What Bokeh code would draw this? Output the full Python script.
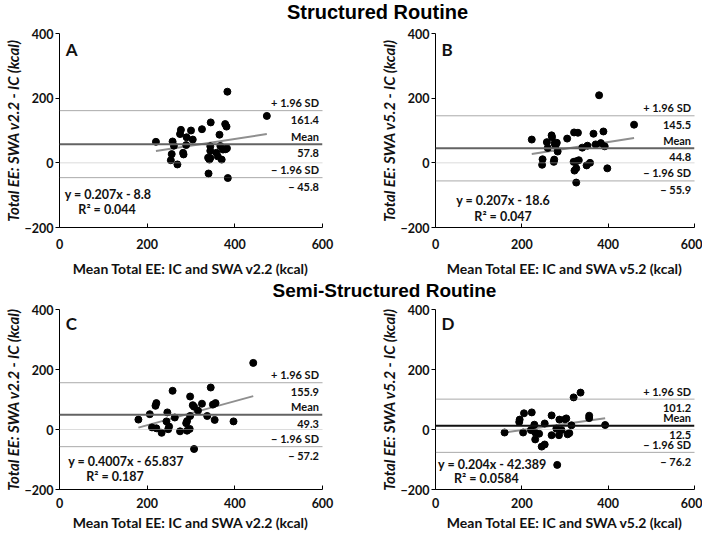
from bokeh.plotting import figure
from bokeh.layouts import column, row
from bokeh.models import Range1d, FixedTicker, Span
from bokeh.core.properties import value
from bokeh.embed import file_html
from bokeh.resources import INLINE

# ---------------- data ----------------
a_x = [220, 258, 261, 256, 254, 269, 277, 275, 290, 300, 304, 289, 282, 283, 325, 345, 344, 344,
       339, 342, 344, 340, 358, 361, 365, 367, 370, 373, 379, 382, 378, 381, 383, 384, 473]
a_y = [65, 66, 53, 27, 8, -5, 102, 89, 79, 100, 72, 55, 31, 26, 104, 125, 51, 37,
       16, 10, 15, -33, 31, 20, 87, 52, 10, 41, 42, 45, 120, 112, 220, -47, 145]

b_x = [223, 248, 247, 258, 260, 269, 270, 276, 278, 281, 283, 275, 274, 305, 321, 330, 340, 352,
       320, 326, 332, 326, 322, 326, 350, 358, 366, 371, 383, 389, 392, 379, 398, 460]
b_y = [72, 11, -6, 64, 46, 85, 79, 60, 53, 62, 35, 10, 3, 75, 94, 93, 47, 53,
       3, 5, 8, -17, -24, -61, -8, 0, 90, 57, 61, 97, 51, 209, -17, 118]

c_x = [180, 206, 219, 221, 211, 221, 233, 246, 244, 250, 248, 258, 263, 275, 291, 289, 291, 297,
       298, 298, 304, 307, 316, 325, 337, 345, 350, 356, 354, 397, 442, 307]
c_y = [33, 51, 79, 88, 7, 4, -11, 57, 27, 10, 1, 129, 40, -6, 28, 21, -4, 2,
       110, 45, 81, 76, 63, 86, 45, 140, 83, 88, 32, 27, 222, -65]

d_x = [160, 195, 194, 205, 223, 203, 229, 221, 231, 240, 231, 246, 253, 253, 269, 269, 280, 286,
       287, 292, 303, 300, 306, 310, 315, 320, 336, 356, 356, 393, 282]
d_y = [-10, 33, 25, 54, 57, -10, 16, -2, -10, -14, -33, -57, -50, 20, 47, -19, 3, -19,
       33, -2, 37, 34, -16, -12, 14, 107, 123, 46, 38, 15, -118]

panel_letters = ["A", "B", "C", "D"]
means = [57.8, 44.8, 49.3, 12.5]
upper_loa = [161.4, 145.5, 155.9, 101.2]
lower_loa = [-45.8, -55.9, -57.2, -76.2]
slopes = [0.207, 0.207, 0.4007, 0.204]
intercepts = [-8.8, -18.6, -65.837, -42.389]
eq_labels = ["y = 0.207x - 8.8", "y = 0.207x - 18.6", "y = 0.4007x - 65.837", "y = 0.204x - 42.389"]
r2_labels = ["R² = 0.044", "R² = 0.047", "R² = 0.187", "R² = 0.0584"]
y_titles = ["Total EE: SWA v2.2 - IC (kcal)", "Total EE: SWA v5.2 - IC (kcal)",
            "Total EE: SWA v2.2 - IC (kcal)", "Total EE: SWA v5.2 - IC (kcal)"]
x_titles = ["Mean Total EE: IC and SWA v2.2 (kcal)", "Mean Total EE: IC and SWA v5.2 (kcal)",
            "Mean Total EE: IC and SWA v2.2 (kcal)", "Mean Total EE: IC and SWA v5.2 (kcal)"]
section_titles = ["Structured Routine", "Semi-Structured Routine"]
x_ticks = [0, 200, 400, 600]
y_ticks = [-200, 0, 200, 400]

# ---------------- styling ----------------
FONT = value("Lato")
eq_pos = [((12, -99), (43, -145)), ((48, -116), (90, -165)),
          ((20, -108), (61, -156)), ((6, -115), (43, -164))]
mean_colors = ["#636363", "#636363", "#636363", "#111111"]


def panel(i, xs, ys, width, height, left, right, top, bottom, lab_stand, title_stand):
    p = figure(width=width, height=height, x_range=Range1d(0, 600), y_range=Range1d(-200, 400),
               output_backend="svg", toolbar_location=None,
               min_border_left=left, min_border_right=right,
               min_border_top=top, min_border_bottom=bottom)
    p.grid.visible = False
    p.outline_line_color = None
    p.background_fill_color = "white"
    p.border_fill_color = "white"

    p.xaxis.ticker = FixedTicker(ticks=x_ticks)
    p.yaxis.ticker = FixedTicker(ticks=y_ticks)
    for ax in (p.xaxis[0], p.yaxis[0]):
        ax.axis_line_color = "black"
        ax.axis_line_width = 1
        ax.major_tick_line_color = "black"
        ax.minor_tick_line_color = None
        ax.major_label_text_font = "Lato"
        ax.major_label_text_font_style = "bold"
        ax.major_label_text_font_size = "12.5px"
        ax.major_label_text_color = "#111111"
        ax.axis_label_text_font = "Lato"
        ax.axis_label_text_color = "#111111"
    p.xaxis.major_tick_in = 4
    p.xaxis.major_tick_out = 0
    p.xaxis.major_label_standoff = lab_stand
    p.xaxis.axis_label_standoff = title_stand
    p.xaxis.axis_label = x_titles[i]
    p.xaxis.axis_label_text_font_style = "bold"
    p.xaxis.axis_label_text_font_size = "14px"
    p.yaxis.major_tick_in = 0
    p.yaxis.major_tick_out = 4
    p.yaxis.major_label_standoff = 2
    p.yaxis.axis_label_standoff = 0
    p.yaxis.axis_label = y_titles[i]
    p.yaxis.axis_label_text_font_style = "bold italic"
    p.yaxis.axis_label_text_font_size = "15px"

    # reference lines
    p.add_layout(Span(location=0, dimension="width", line_color="#b8b8b8",
                      line_width=1, line_dash="1 1"))
    p.add_layout(Span(location=upper_loa[i], dimension="width", line_color="#555555",
                      line_width=1, line_dash="1 1"))
    p.add_layout(Span(location=lower_loa[i], dimension="width", line_color="#555555",
                      line_width=1, line_dash="1 1"))
    p.add_layout(Span(location=means[i], dimension="width", line_color=mean_colors[i],
                      line_width=2))

    # regression line over data range
    x0, x1 = min(xs), max(xs)
    p.line([x0, x1], [slopes[i] * x0 + intercepts[i], slopes[i] * x1 + intercepts[i]],
           line_color="#8f8f8f", line_width=2)

    p.scatter(xs, ys, size=7, color="black")

    def txt(x, y, s, align="left", size="11px", yoff=0, style="bold"):
        p.text(x=[x], y=[y], text=[s], text_align=align, text_baseline="middle",
               y_offset=yoff, text_font=FONT, text_font_style=style,
               text_font_size=size, text_color="#111111")

    txt(14, 352, panel_letters[i], size="17px")
    txt(592, upper_loa[i], "+ 1.96 SD", align="right", yoff=-8)
    txt(592, upper_loa[i], f"{upper_loa[i]:.1f}", align="right", yoff=9)
    txt(592, means[i], "Mean", align="right", yoff=-8)
    txt(592, means[i], f"{means[i]:.1f}", align="right", yoff=9)
    txt(592, lower_loa[i], "− 1.96 SD", align="right", yoff=-8)
    txt(592, lower_loa[i], f"− {abs(lower_loa[i]):.1f}", align="right", yoff=9)
    (ex, ey), (rx, ry) = eq_pos[i]
    txt(ex, ey, eq_labels[i], size="12.5px")
    txt(rx, ry, r2_labels[i], size="12.5px")
    return p


def title_fig(text, cx, height, size):
    t = figure(width=702, height=height, x_range=Range1d(0, 702), y_range=Range1d(0, height),
               output_backend="svg", toolbar_location=None,
               min_border_left=0, min_border_right=0, min_border_top=0, min_border_bottom=0)
    t.axis.visible = False
    t.grid.visible = False
    t.outline_line_color = None
    t.text(x=[cx], y=[height / 2], text=[text], text_align="center", text_baseline="middle",
           text_font=value("Liberation Sans"), text_font_style="bold", text_font_size=size,
           text_color="black")
    return t


t1 = title_fig(section_titles[0], 377, 22, "20px")
pA = panel(0, a_x, a_y, 376, 257, 58, 54, 11, 49, 11, 8)
pB = panel(1, b_x, b_y, 326, 257, 58, 8, 11, 49, 11, 8)
t2 = title_fig(section_titles[1], 384, 22, "19px")
pC = panel(2, c_x, c_y, 376, 232, 58, 54, 8, 37, 8, 3)
pD = panel(3, d_x, d_y, 326, 232, 58, 8, 8, 37, 8, 3)

layout = column(t1, row(pA, pB), t2, row(pC, pD))
open("out.html", "w").write(file_html(layout, INLINE))
